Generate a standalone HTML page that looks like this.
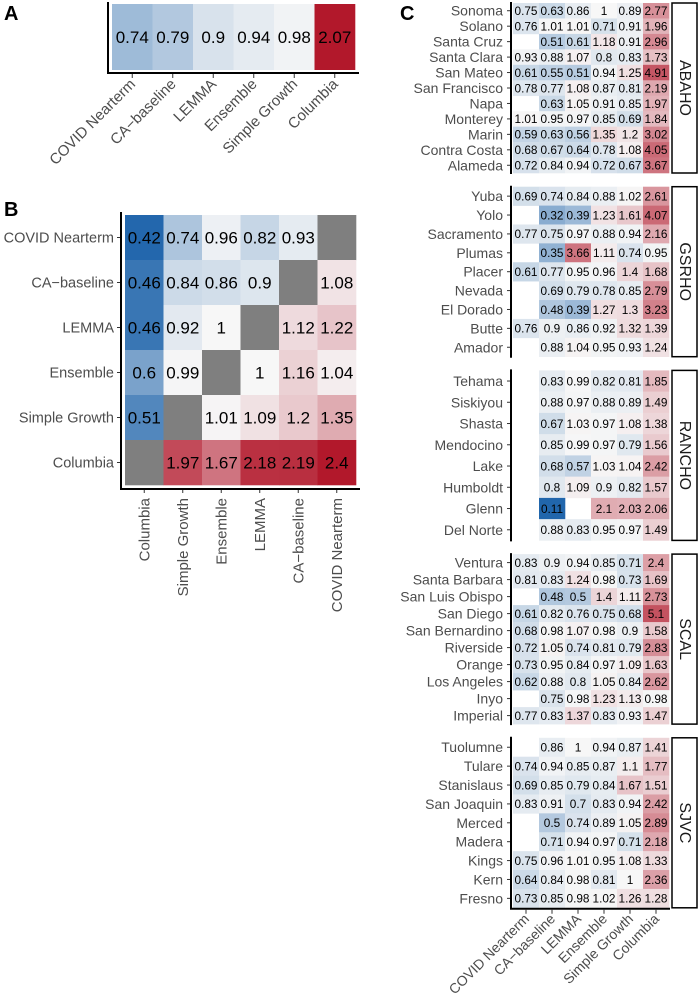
<!DOCTYPE html>
<html><head><meta charset="utf-8"><style>
html,body{margin:0;padding:0;background:#fff}
svg{display:block;font-family:"Liberation Sans",sans-serif}
</style></head><body>
<svg id="fig" width="700" height="1003" viewBox="0 0 700 1003"></svg>
<script>
const models = ["COVID Nearterm","CA\u2212baseline","LEMMA","Ensemble","Simple Growth","Columbia"];
const aValues = [0.74,0.79,0.9,0.94,0.98,2.07];
const bRows = ["COVID Nearterm","CA\u2212baseline","LEMMA","Ensemble","Simple Growth","Columbia"];
const bCols = ["Columbia","Simple Growth","Ensemble","LEMMA","CA\u2212baseline","COVID Nearterm"];
const bValues = [
 [0.42,0.74,0.96,0.82,0.93,null],
 [0.46,0.84,0.86,0.9,null,1.08],
 [0.46,0.92,1,null,1.12,1.22],
 [0.6,0.99,null,1,1.16,1.04],
 [0.51,null,1.01,1.09,1.2,1.35],
 [null,1.97,1.67,2.18,2.19,2.4]];
const regions = ["ABAHO","GSRHO","RANCHO","SCAL","SJVC"];
const counties = [
 ["Sonoma","Solano","Santa Cruz","Santa Clara","San Mateo","San Francisco","Napa","Monterey","Marin","Contra Costa","Alameda"],
 ["Yuba","Yolo","Sacramento","Plumas","Placer","Nevada","El Dorado","Butte","Amador"],
 ["Tehama","Siskiyou","Shasta","Mendocino","Lake","Humboldt","Glenn","Del Norte"],
 ["Ventura","Santa Barbara","San Luis Obispo","San Diego","San Bernardino","Riverside","Orange","Los Angeles","Inyo","Imperial"],
 ["Tuolumne","Tulare","Stanislaus","San Joaquin","Merced","Madera","Kings","Kern","Fresno"]];
const cValues = [
 [[0.75,0.63,0.86,1,0.89,2.77],[0.76,1.01,1.01,0.71,0.91,1.96],[null,0.51,0.61,1.18,0.91,2.96],[0.93,0.88,1.07,0.8,0.83,1.73],[0.61,0.55,0.51,0.94,1.25,4.91],[0.78,0.77,1.08,0.87,0.81,2.19],[null,0.63,1.05,0.91,0.85,1.97],[1.01,0.95,0.97,0.85,0.69,1.84],[0.59,0.63,0.56,1.35,1.2,3.02],[0.68,0.67,0.64,0.78,1.08,4.05],[0.72,0.84,0.94,0.72,0.67,3.67]],
 [[0.69,0.74,0.84,0.88,1.02,2.61],[null,0.32,0.39,1.23,1.61,4.07],[0.77,0.75,0.97,0.88,0.94,2.16],[null,0.35,3.66,1.11,0.74,0.95],[0.61,0.77,0.95,0.96,1.4,1.68],[null,0.69,0.79,0.78,0.85,2.79],[null,0.48,0.39,1.27,1.3,3.23],[0.76,0.9,0.86,0.92,1.32,1.39],[null,0.88,1.04,0.95,0.93,1.24]],
 [[null,0.83,0.99,0.82,0.81,1.85],[null,0.88,0.97,0.88,0.89,1.49],[null,0.67,1.03,0.97,1.08,1.38],[null,0.85,0.99,0.97,0.79,1.56],[null,0.68,0.57,1.03,1.04,2.42],[null,0.8,1.09,0.9,0.82,1.57],[null,0.11,null,2.1,2.03,2.06],[null,0.88,0.83,0.95,0.97,1.49]],
 [[0.83,0.9,0.94,0.85,0.71,2.4],[0.81,0.83,1.24,0.98,0.73,1.69],[null,0.48,0.5,1.4,1.11,2.73],[0.61,0.82,0.76,0.75,0.68,5.1],[0.68,0.98,1.07,0.98,0.9,1.58],[0.72,1.05,0.74,0.81,0.79,2.83],[0.73,0.95,0.84,0.97,1.09,1.63],[0.62,0.88,0.8,1.05,0.84,2.62],[null,0.75,0.98,1.23,1.13,0.98],[0.77,0.83,1.37,0.83,0.93,1.47]],
 [[null,0.86,1,0.94,0.87,1.41],[0.74,0.94,0.85,0.87,1.1,1.77],[0.69,0.85,0.79,0.84,1.67,1.51],[0.83,0.91,0.7,0.83,0.94,2.42],[null,0.5,0.74,0.89,1.05,2.89],[null,0.71,0.94,0.97,0.71,2.18],[0.75,0.96,1.01,0.95,1.08,1.33],[0.64,0.84,0.98,0.81,1,2.36],[0.73,0.85,0.98,1.02,1.26,1.28]]];

const NS="http://www.w3.org/2000/svg";
const svg=document.getElementById('fig');
function mk(tag,attrs,parent,txt){const e=document.createElementNS(NS,tag);for(const k in attrs)e.setAttribute(k,attrs[k]);if(txt!==undefined)e.textContent=txt;(parent||svg).appendChild(e);return e;}
function colorFor(v,lim){
  const t=Math.max(-1,Math.min(1,Math.log(v)/lim));
  const w=[247,247,247], r=[178,24,43], b=[33,102,172];
  const e=t>=0?r:b, a=Math.abs(t);
  const c=w.map((x,i)=>Math.round(x+(e[i]-x)*a));
  return `rgb(${c[0]},${c[1]},${c[2]})`;
}
function fmt(v){return String(v);}
function limOf(arr){let m=0;arr.forEach(v=>{if(v!=null)m=Math.max(m,Math.abs(Math.log(v)));});return m;}

[["A",4,20],["B",4,216],["C",400,20]].forEach(([t,x,y])=>{const e=mk('text',{x:x,y:y,'font-size':20,'font-weight':'bold',fill:'#000'},svg,t);});

// ---- Panel A ----
const gA=mk('g',{});
const aX0=112,aW=40.5,aY0=4,aH=66;
const aLim=limOf(aValues);
const ax=i=>aX0+i*aW;
aValues.forEach((v,i)=>{
  const r=mk('rect',{x:ax(i),y:aY0,width:aW+0.3,height:aH,fill:colorFor(v,aLim)},gA);
  
  const t=mk('text',{x:ax(i)+aW/2,y:aY0+aH/2+6,'text-anchor':'middle','font-size':17,fill:'#000'},gA,fmt(v));
  
  const tx=ax(i)+aW/2;
  mk('line',{x1:tx,y1:74,x2:tx,y2:78,stroke:'#333','stroke-width':1},gA);
  const l=mk('text',{x:tx+4,y:85,'text-anchor':'end','font-size':15,fill:'#4d4d4d',transform:`rotate(-45 ${tx+4} 85)`},gA,models[i]);
  
});
mk('path',{d:`M108 2 V73 H359`,stroke:'#000','stroke-width':2,fill:'none'},gA);

// ---- Panel B ----
const gB=mk('g',{});
const bX0=125,bW=38.5,bY0=215,bH=45;
const bLim=limOf(bValues.flat());
bValues.forEach((row,ri)=>row.forEach((v,ci)=>{
  const x=bX0+ci*bW,y=bY0+ri*bH;
  const r=mk('rect',{x:x,y:y,width:bW+0.3,height:bH+0.3,fill:v==null?'#7f7f7f':colorFor(v,bLim)},gB);
  
  if(v!=null){const t=mk('text',{x:x+bW/2,y:y+bH/2+6,'text-anchor':'middle','font-size':17,fill:'#000'},gB,fmt(v));
  }
}));
bRows.forEach((n,ri)=>{const y=bY0+ri*bH+bH/2;
  mk('line',{x1:117,y1:y,x2:121,y2:y,stroke:'#333'},gB);
  const t=mk('text',{x:114,y:y+5,'text-anchor':'end','font-size':14.5,fill:'#4d4d4d'},gB,n);
  });
bCols.forEach((n,ci)=>{const x=bX0+ci*bW+bW/2;
  mk('line',{x1:x,y1:489,x2:x,y2:493,stroke:'#333'},gB);
  const t=mk('text',{x:x+5,y:498,'text-anchor':'end','font-size':15,fill:'#4d4d4d',transform:`rotate(-90 ${x+5} 498)`},gB,n);
  });
mk('path',{d:`M121 212 V489 H360`,stroke:'#000','stroke-width':2,fill:'none'},gB);

// ---- Panel C ----
const gC=mk('g',{});
const cX0=513,cW=26,pH=170,pStep=183.7,pTop=3;
const cLim=limOf(cValues.flat(2));
regions.forEach((reg,pi)=>{
  const top=pTop+pi*pStep, n=counties[pi].length, rh=pH/n;
  const gp=mk('g',{},gC);
  cValues[pi].forEach((row,ri)=>{
    const y=top+ri*rh;
    row.forEach((v,ci)=>{
      if(v==null)return;
      const x=cX0+ci*cW;
      const r=mk('rect',{x:x,y:y,width:cW+0.3,height:rh+0.3,fill:colorFor(v,cLim)},gp);
      
      const t=mk('text',{x:x+cW/2,y:y+rh/2+4.3,'text-anchor':'middle','font-size':11.8,fill:'#000'},gp,fmt(v));
      
    });
    const l=mk('text',{x:503,y:y+rh/2+5,'text-anchor':'end','font-size':14,fill:'#4d4d4d'},gp,counties[pi][ri]);
    
    mk('line',{x1:507,y1:y+rh/2,x2:510,y2:y+rh/2,stroke:'#333'},gp);
  });
  mk('line',{x1:511,y1:top-1,x2:511,y2:top+pH+1,stroke:'#000','stroke-width':2},gp);
  const s=mk('rect',{x:672,y:top,width:25,height:pH,fill:'#fff',stroke:'#000','stroke-width':1.5},gp);
  
  const cy=top+pH/2;
  const st=mk('text',{x:684.5,y:cy,'text-anchor':'middle','font-size':16,fill:'#1a1a1a',transform:`rotate(90 684.5 ${cy})`,'dominant-baseline':'central'},gp,reg);
  
});
const cBot=pTop+4*pStep+pH;
mk('line',{x1:510,y1:cBot+1,x2:670,y2:cBot+1,stroke:'#000','stroke-width':2},gC);
models.forEach((m,ci)=>{const x=cX0+ci*cW+cW/2;
  mk('line',{x1:x,y1:cBot+2,x2:x,y2:cBot+6,stroke:'#333'},gC);
  const t=mk('text',{x:x+4,y:cBot+12,'text-anchor':'end','font-size':14,fill:'#4d4d4d',transform:`rotate(-45 ${x+4} ${cBot+12})`},gC,m);
  });
</script>
</body></html>
